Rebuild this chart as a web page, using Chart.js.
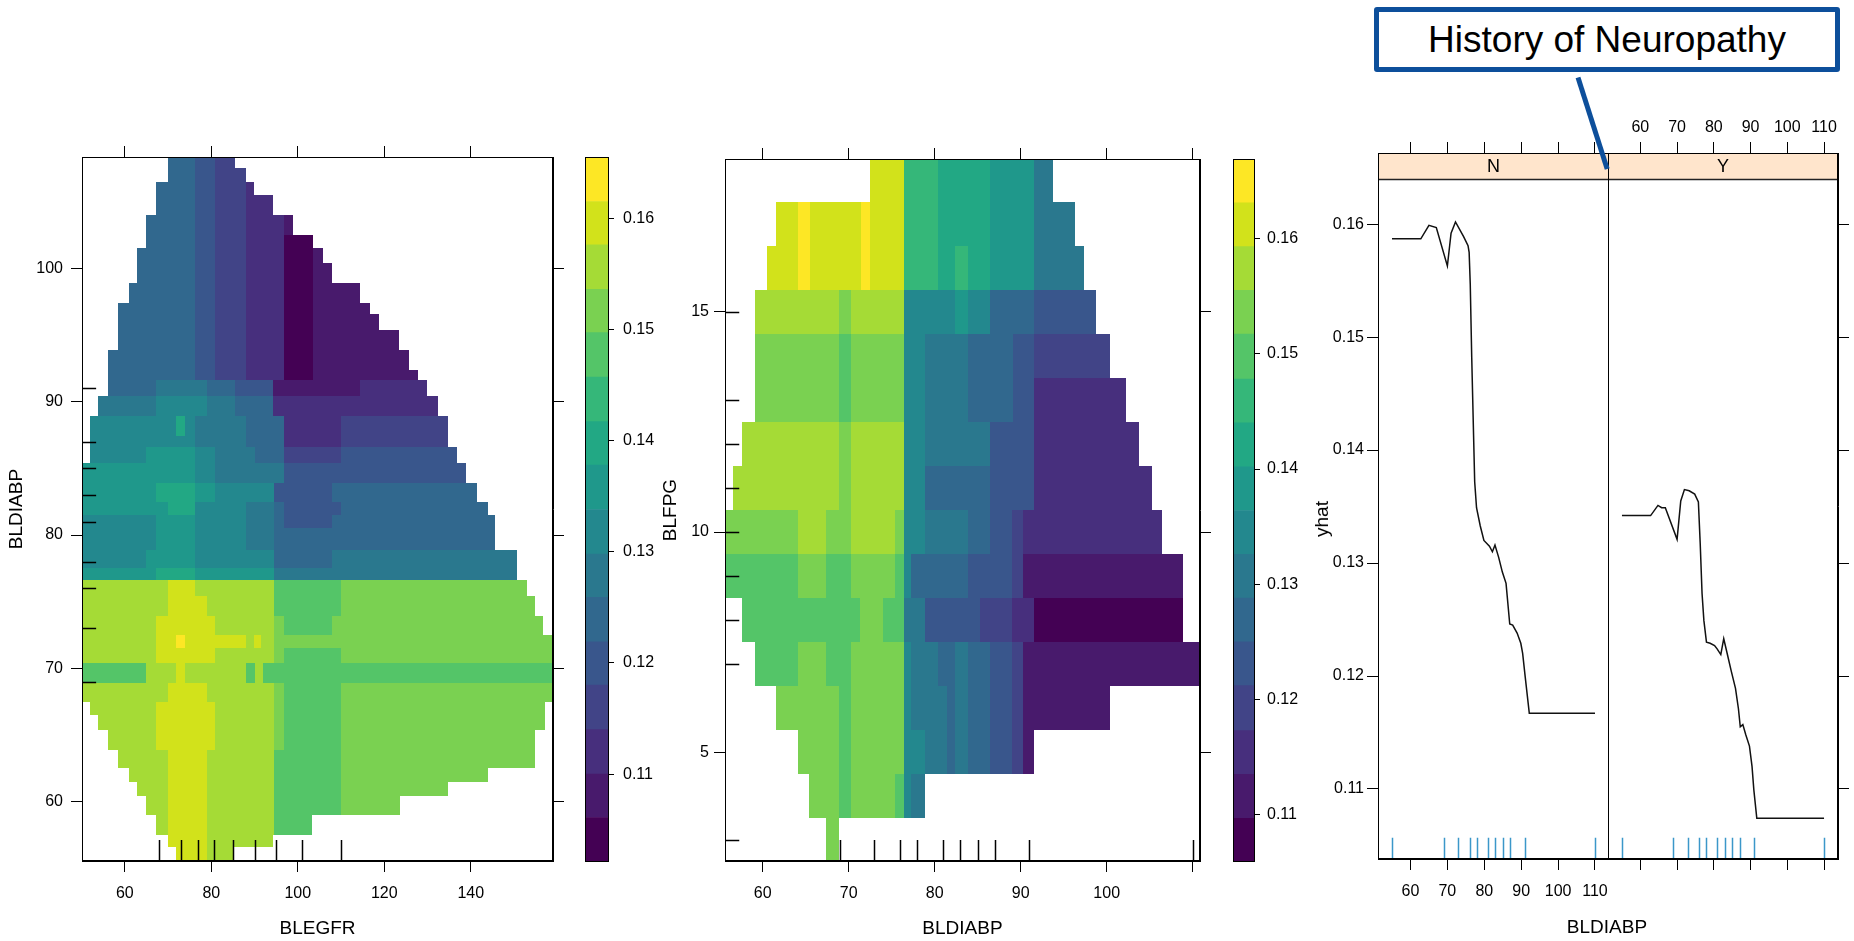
<!DOCTYPE html>
<html>
<head>
<meta charset="utf-8">
<script src="https://cdn.jsdelivr.net/npm/chart.js@4.4.1/dist/chart.umd.min.js"></script>
<style>
  html, body { margin: 0; padding: 0; background: #fff; }
  #page { position: relative; width: 1854px; height: 941px; overflow: hidden; background: #fff; }
  canvas { position: absolute; top: 0; }
  .lab { position: absolute; font: 19px 'Liberation Sans', Arial, sans-serif; color: #000; white-space: nowrap; }
  #ylab { left: 1322px; top: 519px; transform: translate(-50%, -50%) rotate(-90deg); }
  #xlab { left: 1607px; top: 927px; transform: translate(-50%, -50%); }
  #callout { position: absolute; left: 1374px; top: 7px; width: 466px; height: 65px; box-sizing: border-box;
    border: 5px solid #0d4f9b; border-radius: 3px; background: #fff;
    display: flex; align-items: center; justify-content: center;
    font: 37px 'Liberation Sans', Arial, sans-serif; color: #000; }
  #pointer { position: absolute; left: 1578px; top: 75px; width: 96px; height: 5px; background: #0d4f9b;
    transform-origin: 0 50%; transform: rotate(72.3deg); }
</style>
</head>
<body>
<div id="page">
  <canvas id="heat1" width="566" height="941" style="left:0px"></canvas>
  <canvas id="key1" width="110" height="941" style="left:566px"></canvas>
  <canvas id="heat2" width="572" height="941" style="left:640px"></canvas>
  <canvas id="key2" width="100" height="941" style="left:1212px"></canvas>
  <canvas id="panelN" width="329" height="941" style="left:1280px"></canvas>
  <canvas id="panelY" width="246" height="941" style="left:1608px"></canvas>
  <div class="lab" id="ylab">yhat</div>
  <div class="lab" id="xlab">BLDIABP</div>
  <div id="pointer"></div>
  <div id="callout">History of Neuropathy</div>
</div>
<script>
const FONT = "'Liberation Sans', Arial, sans-serif";
Chart.defaults.font.family = FONT;
Chart.defaults.font.size = 16;
Chart.defaults.color = '#000';

// colour key (16 viridis levels) and the cut points of each key
const viridis16 = ['#440154', '#481A6C', '#472F7D', '#414487', '#39568C', '#31688E', '#2A788E', '#23888E',
  '#1F988B', '#22A884', '#35B779', '#54C568', '#7AD151', '#A5DB36', '#D2E21B', '#FDE725'];
const keyCuts1 = [0.1021, 0.1061, 0.1100, 0.1140, 0.1180, 0.1219, 0.1259, 0.1298, 0.1338,
  0.1378, 0.1417, 0.1457, 0.1497, 0.1536, 0.1576, 0.1615, 0.1655];
const keyCuts2 = [0.1059, 0.1097, 0.1135, 0.1173, 0.1212, 0.1250, 0.1288, 0.1326, 0.1364,
  0.1402, 0.1440, 0.1478, 0.1517, 0.1555, 0.1593, 0.1631, 0.1669];
const keyTicks = [0.11, 0.12, 0.13, 0.14, 0.15, 0.16];

// tick labels
const egfrTicks = [60, 80, 100, 120, 140];
const diabpTicks1 = [60, 70, 80, 90, 100];
const diabpTicks2 = [60, 70, 80, 90, 100, 110];
const fpgTicks = [5, 10, 15];
const yhatTicks = [0.11, 0.12, 0.13, 0.14, 0.15, 0.16];

// rugs (deciles)
const egfrRug = [68, 73, 77, 80.7, 85, 90, 95, 101, 110];
const diabpRug = [55, 69, 73, 76, 78, 81, 83, 85, 87, 91, 110];
const fpgRug = [3, 7, 8, 9, 10, 11, 12, 13, 15];

// panel 1: BLEGFR x BLDIABP, one entry per BLDIABP band
const diabpBands1 = [
  [107.5, 108.4], [106.5, 107.5], [105.5, 106.5], [104.0, 105.5], [102.5, 104.0], [101.5, 102.5],
  [100.4, 101.5], [98.9, 100.4], [97.4, 98.9], [96.6, 97.4], [95.4, 96.6], [93.9, 95.4],
  [92.4, 93.9], [91.6, 92.4], [90.4, 91.6], [88.9, 90.4], [87.4, 88.9], [86.6, 87.4],
  [85.4, 86.6], [83.9, 85.4], [82.5, 83.9], [81.5, 82.5], [80.5, 81.5], [78.9, 80.5],
  [77.5, 78.9], [76.6, 77.5], [75.4, 76.6], [73.9, 75.4], [72.5, 73.9], [71.5, 72.5],
  [70.4, 71.5], [68.9, 70.4], [67.5, 68.9], [66.5, 67.5], [65.4, 66.5], [63.9, 65.4],
  [62.5, 63.9], [61.5, 62.5], [60.4, 61.5], [59.0, 60.4], [57.5, 59.0], [56.6, 57.5], [55.5, 56.6]
];
const egfrBreaks1 = [
  [69.9, 76.2, 80.8, 85.4],
  [69.9, 76.2, 80.8, 88.0],
  [67.3, 76.2, 80.8, 88.0, 89.9],
  [67.3, 76.2, 80.8, 88.0, 94.3],
  [64.8, 76.2, 80.8, 88.0, 96.8, 98.9],
  [64.8, 76.2, 80.8, 88.0, 96.8, 103.4],
  [62.9, 76.2, 80.8, 88.0, 96.8, 103.4, 105.9],
  [62.9, 76.2, 80.8, 88.0, 96.8, 103.4, 107.8],
  [61.0, 76.2, 80.8, 88.0, 96.8, 103.4, 114.3],
  [58.5, 76.2, 80.8, 88.0, 96.8, 103.4, 116.8],
  [58.5, 76.2, 80.8, 88.0, 96.8, 103.4, 118.7],
  [58.5, 76.2, 80.8, 88.0, 96.8, 103.4, 123.4],
  [56.1, 76.2, 80.8, 88.0, 96.8, 103.4, 125.7],
  [56.1, 76.2, 80.8, 88.0, 96.8, 103.4, 127.8],
  [56.1, 67.3, 78.9, 85.4, 94.3, 114.3, 129.9],
  [53.7, 67.3, 78.9, 85.4, 94.3, 132.3],
  [51.9, 71.9, 73.9, 76.2, 88.0, 96.8, 109.9, 134.8],
  [51.9, 76.2, 88.0, 96.8, 109.9, 134.8],
  [51.9, 64.8, 76.2, 80.8, 90.1, 96.8, 109.9, 136.9],
  [50.0, 76.2, 80.8, 96.8, 138.8],
  [50.0, 67.3, 76.2, 80.8, 94.5, 107.8, 141.5],
  [50.0, 69.9, 76.2, 88.0, 94.5, 96.8, 109.9, 144.0],
  [50.0, 67.3, 76.2, 88.0, 94.5, 96.8, 107.8, 145.7],
  [50.0, 67.3, 76.2, 88.0, 94.5, 145.7],
  [50.0, 64.8, 76.2, 94.5, 107.8, 150.6],
  [50.0, 67.3, 76.2, 94.5, 150.6],
  [50.0, 69.9, 76.2, 94.5, 109.9, 152.9],
  [50.0, 69.9, 78.9, 94.5, 109.9, 154.8],
  [50.0, 67.3, 80.8, 94.5, 96.8, 107.8, 156.7],
  [50.0, 67.3, 71.9, 73.9, 88.0, 89.9, 91.6, 94.5, 160.0],
  [50.0, 67.3, 80.8, 94.5, 96.8, 109.9, 160.0],
  [50.0, 64.8, 71.9, 73.9, 88.0, 90.1, 92.0, 160.0],
  [50.0, 69.9, 78.9, 94.5, 96.8, 109.9, 160.0],
  [51.9, 67.3, 80.8, 94.5, 96.8, 109.9, 157.1],
  [53.8, 67.3, 80.8, 94.5, 96.8, 109.9, 157.1],
  [56.1, 67.3, 80.8, 94.5, 96.8, 109.9, 154.8],
  [58.5, 69.9, 78.9, 94.5, 109.9, 154.8],
  [61.0, 69.9, 78.9, 94.5, 109.9, 144.0],
  [62.9, 69.9, 78.9, 94.5, 109.9, 134.8],
  [64.8, 69.9, 78.9, 94.5, 109.9, 123.6],
  [67.3, 69.9, 78.9, 94.5, 103.3],
  [69.9, 78.9, 94.3],
  [71.9, 78.9, 85.0]
];
const yhatGrid1 = [
  [0.124, 0.120, 0.116],
  [0.124, 0.120, 0.116],
  [0.124, 0.120, 0.116, 0.112],
  [0.124, 0.120, 0.116, 0.112],
  [0.124, 0.120, 0.116, 0.112, 0.108],
  [0.124, 0.120, 0.116, 0.112, 0.104],
  [0.124, 0.120, 0.116, 0.112, 0.104, 0.108],
  [0.124, 0.120, 0.116, 0.112, 0.104, 0.108],
  [0.124, 0.120, 0.116, 0.112, 0.104, 0.108],
  [0.124, 0.120, 0.116, 0.112, 0.104, 0.108],
  [0.124, 0.120, 0.116, 0.112, 0.104, 0.108],
  [0.124, 0.120, 0.116, 0.112, 0.104, 0.108],
  [0.124, 0.120, 0.116, 0.112, 0.104, 0.108],
  [0.124, 0.120, 0.116, 0.112, 0.104, 0.108],
  [0.124, 0.128, 0.124, 0.120, 0.108, 0.112],
  [0.128, 0.132, 0.128, 0.124, 0.112],
  [0.132, 0.140, 0.132, 0.128, 0.124, 0.112, 0.116],
  [0.132, 0.128, 0.124, 0.112, 0.116],
  [0.132, 0.136, 0.132, 0.128, 0.124, 0.116, 0.120],
  [0.136, 0.132, 0.128, 0.120],
  [0.136, 0.140, 0.136, 0.132, 0.120, 0.124],
  [0.136, 0.140, 0.132, 0.128, 0.124, 0.120, 0.124],
  [0.132, 0.136, 0.132, 0.128, 0.124, 0.120, 0.124],
  [0.132, 0.136, 0.132, 0.128, 0.124],
  [0.132, 0.136, 0.132, 0.124, 0.128],
  [0.136, 0.140, 0.136, 0.128],
  [0.156, 0.160, 0.156, 0.148, 0.152],
  [0.156, 0.160, 0.156, 0.148, 0.152],
  [0.156, 0.160, 0.156, 0.152, 0.148, 0.152],
  [0.156, 0.160, 0.164, 0.160, 0.156, 0.160, 0.156, 0.152],
  [0.156, 0.160, 0.156, 0.152, 0.148, 0.152],
  [0.148, 0.156, 0.160, 0.156, 0.148, 0.156, 0.148],
  [0.156, 0.160, 0.156, 0.152, 0.148, 0.152],
  [0.156, 0.160, 0.156, 0.152, 0.148, 0.152],
  [0.156, 0.160, 0.156, 0.152, 0.148, 0.152],
  [0.156, 0.160, 0.156, 0.152, 0.148, 0.152],
  [0.156, 0.160, 0.156, 0.148, 0.152],
  [0.156, 0.160, 0.156, 0.148, 0.152],
  [0.156, 0.160, 0.156, 0.148, 0.152],
  [0.156, 0.160, 0.156, 0.148, 0.152],
  [0.156, 0.160, 0.156, 0.148],
  [0.160, 0.156],
  [0.160, 0.156]
];

// panel 2: BLDIABP x BLFPG, one entry per BLFPG grid value (cell = value +/- 0.5)
const fpgCells = [18, 17, 16, 15, 14, 13, 12, 11, 10, 9, 8, 7, 6, 5, 4, 3];
const diabpBreaks2 = [
  [72.5, 76.4, 80.4, 86.4, 91.5, 93.8],
  [61.6, 64.1, 65.5, 71.4, 72.5, 76.4, 80.4, 86.4, 91.5, 96.3],
  [60.5, 64.1, 65.5, 71.4, 72.5, 76.4, 80.4, 82.4, 83.9, 86.4, 91.5, 97.4],
  [59.1, 68.9, 70.3, 76.4, 82.4, 83.9, 86.4, 91.5, 98.8],
  [59.1, 68.9, 70.3, 76.4, 78.9, 83.9, 89.1, 91.5, 100.4],
  [59.1, 68.9, 70.3, 76.4, 78.9, 83.9, 89.1, 91.5, 102.2],
  [57.6, 68.9, 70.3, 76.4, 78.9, 86.4, 91.5, 103.8],
  [56.6, 68.9, 70.3, 76.4, 78.9, 86.4, 91.5, 105.3],
  [55.0, 64.1, 67.4, 70.3, 75.4, 76.4, 78.9, 83.9, 86.4, 89.0, 90.3, 106.4],
  [55.0, 64.1, 67.4, 70.3, 75.4, 76.4, 77.3, 83.9, 89.0, 90.3, 108.9],
  [57.6, 71.3, 74.0, 76.4, 78.9, 85.3, 89.0, 91.5, 108.9],
  [59.1, 64.1, 67.4, 70.3, 76.4, 77.3, 80.4, 82.4, 83.9, 86.4, 89.0, 90.3, 112.0],
  [61.6, 68.9, 70.3, 76.4, 77.3, 81.4, 82.4, 83.9, 86.4, 89.0, 90.3, 100.4],
  [64.1, 68.9, 70.3, 76.4, 78.9, 81.4, 82.4, 83.9, 86.4, 89.0, 90.3, 91.5],
  [65.4, 68.9, 70.3, 75.4, 76.4, 77.3, 78.9],
  [67.4, 68.9]
];
const yhatGrid2 = [
  [0.161, 0.146, 0.142, 0.138, 0.131],
  [0.161, 0.165, 0.161, 0.165, 0.161, 0.146, 0.142, 0.138, 0.131],
  [0.161, 0.165, 0.161, 0.165, 0.161, 0.146, 0.142, 0.146, 0.142, 0.138, 0.131],
  [0.157, 0.154, 0.157, 0.135, 0.138, 0.135, 0.127, 0.123],
  [0.154, 0.150, 0.154, 0.135, 0.131, 0.127, 0.123, 0.119],
  [0.154, 0.150, 0.154, 0.135, 0.131, 0.127, 0.123, 0.115],
  [0.157, 0.154, 0.157, 0.135, 0.131, 0.123, 0.115],
  [0.157, 0.154, 0.157, 0.135, 0.127, 0.123, 0.115],
  [0.154, 0.157, 0.154, 0.157, 0.154, 0.135, 0.131, 0.127, 0.123, 0.119, 0.115],
  [0.150, 0.154, 0.150, 0.154, 0.150, 0.135, 0.127, 0.123, 0.119, 0.112],
  [0.150, 0.154, 0.150, 0.131, 0.123, 0.119, 0.115, 0.108],
  [0.150, 0.154, 0.150, 0.154, 0.135, 0.131, 0.127, 0.131, 0.127, 0.123, 0.119, 0.112],
  [0.154, 0.150, 0.154, 0.135, 0.131, 0.127, 0.131, 0.127, 0.123, 0.119, 0.112],
  [0.154, 0.150, 0.154, 0.135, 0.131, 0.127, 0.131, 0.127, 0.123, 0.119, 0.112],
  [0.154, 0.150, 0.154, 0.150, 0.135, 0.131],
  [0.154]
];

// panel 3: partial dependence on BLDIABP, by history of neuropathy
const bpN = [55, 62.8, 65, 67, 70, 71, 72.2, 74.4, 75.6, 75.9, 76.2, 76.6, 77.1, 77.4, 77.9, 78.9, 79.9,
  81.4, 82.2, 82.9, 83.9, 84.9, 85.9, 86.9, 87.7, 88.9, 89.9, 90.4, 91.1, 92.2, 110];
const yhatN = [0.1587, 0.1587, 0.1599, 0.1597, 0.1563, 0.1592, 0.1602, 0.1589, 0.1581, 0.1575, 0.1547,
  0.1482, 0.1413, 0.1372, 0.1349, 0.1333, 0.1320, 0.1315, 0.1310, 0.1316, 0.1305, 0.1292, 0.1282,
  0.1246, 0.1245, 0.1238, 0.1229, 0.1220, 0.1199, 0.1167, 0.1167];
const bpY = [55, 62.8, 64.8, 65.8, 66.8, 70, 71, 72, 73.3, 74.8, 75.8, 76.3, 76.8, 77.3, 78, 79, 80.2,
  80.9, 81.9, 82.7, 83.7, 84.7, 85.9, 86.7, 87.2, 87.9, 88.7, 89.7, 90.4, 90.9, 91.7, 110];
const yhatY = [0.1342, 0.1342, 0.1351, 0.1349, 0.1349, 0.1321, 0.1355, 0.1365, 0.1364, 0.1361, 0.1354,
  0.1317, 0.1273, 0.1249, 0.1230, 0.1229, 0.1227, 0.1224, 0.1219, 0.1233, 0.1219, 0.1205, 0.1189,
  0.1171, 0.1155, 0.1157, 0.1148, 0.1138, 0.1120, 0.1099, 0.1074, 0.1074];
const panels = ['N', 'Y'];

// ---------- helpers ----------
function colourFor(v, cuts) {
  let i = 0;
  while (i < viridis16.length - 1 && v >= cuts[i + 1]) i++;
  return viridis16[i];
}

// fixed-size axis: box size set by hand, no extra label padding pushed into the layout
function axis(position, min, max, ticks, o = {}) {
  return {
    type: 'linear', position, min, max,
    afterBuildTicks: s => { s.ticks = ticks.map(v => ({ value: v })); },
    afterFit: s => {
      if (s.isHorizontal()) { s.height = o.size; s.paddingLeft = 0; s.paddingRight = 0; }
      else { s.width = o.size; s.paddingTop = 0; s.paddingBottom = 0; }
    },
    grid: { drawOnChartArea: false, drawTicks: true, tickLength: o.tick || 11, color: '#000', lineWidth: 1 },
    border: { display: true, color: '#000', width: 1 },
    ticks: {
      display: !!o.labels, color: '#000', padding: o.pad || 6, autoSkip: false, maxRotation: 0,
      callback: v => (o.hide && o.hide.includes(v)) ? '' : String(v)
    },
    title: o.title ? { display: true, text: o.title, color: '#000', font: { size: 19 }, padding: o.titlePad } : { display: false }
  };
}

function heatLayer(bands, breaks, values, cuts) {
  return {
    id: 'heatLayer',
    beforeDatasetsDraw(chart) {
      const { ctx, chartArea: a, scales: { x, y } } = chart;
      ctx.save();
      ctx.beginPath(); ctx.rect(a.left, a.top, a.width, a.height); ctx.clip();
      bands.forEach(([lo, hi], r) => {
        const top = Math.round(y.getPixelForValue(hi));
        const bot = Math.round(y.getPixelForValue(lo));
        values[r].forEach((v, i) => {
          const l = Math.round(x.getPixelForValue(breaks[r][i]));
          const rr = Math.round(x.getPixelForValue(breaks[r][i + 1]));
          ctx.fillStyle = colourFor(v, cuts);
          ctx.fillRect(l, top, rr - l, bot - top);
        });
      });
      ctx.restore();
    }
  };
}

function rugLayer(xs, ys, colour) {
  return {
    id: 'rugLayer',
    afterDatasetsDraw(chart) {
      const { ctx, chartArea: a, scales: { x, y } } = chart;
      const lenX = (a.bottom - a.top) * 0.03, lenY = (a.right - a.left) * 0.03;
      ctx.save();
      ctx.strokeStyle = colour; ctx.lineWidth = 1.5;
      ctx.beginPath();
      xs.forEach(v => {
        if (v < x.min || v > x.max) return;
        const p = Math.round(x.getPixelForValue(v)) + 0.5;
        ctx.moveTo(p, a.bottom); ctx.lineTo(p, a.bottom - lenX);
      });
      ys.forEach(v => {
        if (v < y.min || v > y.max) return;
        const p = Math.round(y.getPixelForValue(v)) + 0.5;
        ctx.moveTo(a.left, p); ctx.lineTo(a.left + lenY, p);
      });
      ctx.stroke();
      ctx.restore();
    }
  };
}

function stripLayer(label, stripBottom) {
  return {
    id: 'stripLayer',
    afterDatasetsDraw(chart) {
      const { ctx, chartArea: a, scales: { y } } = chart;
      const b = Math.round(y.getPixelForValue(stripBottom)) + 0.5;
      ctx.save();
      ctx.fillStyle = '#ffe5cc';
      ctx.fillRect(a.left, a.top, a.width, b - a.top);
      ctx.strokeStyle = '#222'; ctx.lineWidth = 1.5;
      ctx.beginPath(); ctx.moveTo(a.left, b); ctx.lineTo(a.right, b); ctx.stroke();
      ctx.fillStyle = '#000';
      ctx.font = '18px ' + FONT;
      ctx.textAlign = 'center'; ctx.textBaseline = 'middle';
      ctx.fillText(label, (a.left + a.right) / 2, (a.top + b) / 2 + 1);
      ctx.restore();
    }
  };
}

const frame = {
  id: 'frame',
  afterDraw(chart) {
    const { ctx, chartArea: a } = chart;
    ctx.save();
    ctx.strokeStyle = '#000'; ctx.lineWidth = 1;
    ctx.strokeRect(Math.round(a.left) + 0.5, Math.round(a.top) + 0.5,
      Math.round(a.right) - Math.round(a.left) - 1, Math.round(a.bottom) - Math.round(a.top) - 1);
    ctx.restore();
  }
};

const baseOptions = {
  responsive: false, animation: false, events: [],
  layout: { padding: 0 },
  plugins: { legend: { display: false }, tooltip: { enabled: false } }
};

// ---------- panel 1 ----------
new Chart(document.getElementById('heat1'), {
  type: 'scatter',
  data: { datasets: [] },
  options: {
    ...baseOptions,
    scales: {
      x: axis('bottom', 50.1, 159.0, egfrTicks, { size: 80, labels: true, pad: 12, title: 'BLEGFR', titlePad: { top: 0, bottom: 1 } }),
      x2: axis('top', 50.1, 159.0, egfrTicks, { size: 157 }),
      y: axis('left', 55.55, 108.35, diabpTicks1, { size: 82, labels: true, pad: 8, title: 'BLDIABP', titlePad: { top: 5, bottom: 0 } }),
      y2: axis('right', 55.55, 108.35, diabpTicks1, { size: 13 })
    }
  },
  plugins: [heatLayer(diabpBands1, egfrBreaks1, yhatGrid1, keyCuts1), rugLayer(egfrRug, diabpRug, '#000'), frame]
});

// ---------- panel 2 ----------
new Chart(document.getElementById('heat2'), {
  type: 'scatter',
  data: { datasets: [] },
  options: {
    ...baseOptions,
    scales: {
      x: axis('bottom', 55.62, 110.85, diabpTicks2, { size: 80, labels: true, pad: 12, hide: [110], title: 'BLDIABP', titlePad: { top: 0, bottom: 1 } }),
      x2: axis('top', 55.62, 110.85, diabpTicks2, { size: 159 }),
      y: axis('left', 2.53, 18.47, fpgTicks, { size: 85, labels: true, pad: 5, title: 'BLFPG', titlePad: { top: 19, bottom: 0 } }),
      y2: axis('right', 2.53, 18.47, fpgTicks, { size: 12 })
    }
  },
  plugins: [heatLayer(fpgCells.map(c => [c - 0.5, c + 0.5]), diabpBreaks2, yhatGrid2, keyCuts2),
    rugLayer(diabpRug, fpgRug, '#000'), frame]
});

// ---------- colour keys ----------
function colourKey(id, cuts, pad) {
  new Chart(document.getElementById(id), {
    type: 'bar',
    data: {
      labels: ['yhat'],
      datasets: viridis16.map((c, i) => ({
        data: [[cuts[i], cuts[i + 1]]], backgroundColor: c, borderWidth: 0,
        grouped: false, barPercentage: 1, categoryPercentage: 1
      }))
    },
    options: {
      ...baseOptions,
      layout: { padding: pad.layout },
      scales: {
        x: { display: false },
        y: {
          type: 'linear', position: 'right', min: cuts[0], max: cuts[cuts.length - 1],
          afterBuildTicks: s => { s.ticks = keyTicks.map(v => ({ value: v })); },
          afterFit: s => { s.width = pad.axis; s.paddingTop = 0; s.paddingBottom = 0; },
          grid: { drawOnChartArea: false, drawTicks: true, tickLength: 5, color: '#000' },
          border: { display: false },
          ticks: { color: '#000', padding: pad.label, callback: v => String(v) }
        }
      }
    },
    plugins: [frame]
  });
}
colourKey('key1', keyCuts1, { layout: { left: 19, top: 157, bottom: 79, right: 0 }, axis: 67, label: 9 });
colourKey('key2', keyCuts2, { layout: { left: 21, top: 159, bottom: 79, right: 0 }, axis: 57, label: 7 });

// ---------- panel 3 (lattice, two conditioning panels) ----------
const yLow = 0.1038, yStrip = 0.1640, yTop = 0.1663;

new Chart(document.getElementById('panelN'), {
  type: 'scatter',
  data: { datasets: [{ data: bpN.map((x, i) => ({ x, y: yhatN[i] })), showLine: true,
    borderColor: '#111', borderWidth: 1.5, pointRadius: 0 }] },
  options: {
    ...baseOptions,
    scales: {
      x: axis('bottom', 51.2, 113.8, diabpTicks2, { size: 82, labels: true, pad: 12 }),
      x2: axis('top', 51.2, 113.8, diabpTicks2, { size: 153 }),
      y: axis('left', yLow, yTop, yhatTicks, { size: 98, labels: true, pad: 3 })
    }
  },
  plugins: [stripLayer(panels[0], yStrip), rugLayer(diabpRug, [], '#3b97c9'), frame]
});

new Chart(document.getElementById('panelY'), {
  type: 'scatter',
  data: { datasets: [{ data: bpY.map((x, i) => ({ x, y: yhatY[i] })), showLine: true,
    borderColor: '#111', borderWidth: 1.5, pointRadius: 0 }] },
  options: {
    ...baseOptions,
    scales: {
      x: axis('bottom', 51.2, 113.8, diabpTicks2, { size: 82 }),
      x2: axis('top', 51.2, 113.8, diabpTicks2, { size: 153, labels: true, pad: 5 }),
      y: axis('right', yLow, yTop, yhatTicks, { size: 16 })
    }
  },
  plugins: [stripLayer(panels[1], yStrip), rugLayer(diabpRug, [], '#3b97c9'), frame]
});
</script>
</body>
</html>
